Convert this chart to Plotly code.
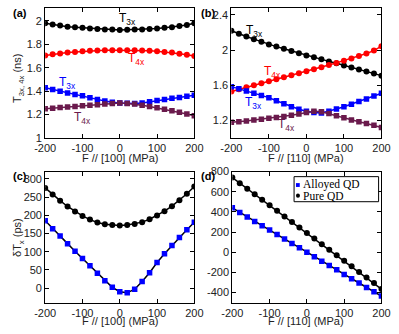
import plotly.graph_objects as go

F = [-200, -180, -160, -140, -120, -100, -80, -60, -40, -20, 0, 20, 40, 60, 80, 100, 120, 140, 160, 180, 200]

# Panel (a): F // [100]
a_pure_T3x = [1.98, 1.968, 1.96, 1.95, 1.945, 1.94, 1.935, 1.93, 1.925, 1.925, 1.922, 1.924, 1.925, 1.926, 1.93, 1.935, 1.94, 1.945, 1.955, 1.965, 1.98]
a_pure_T4x = [1.705, 1.715, 1.722, 1.73, 1.735, 1.74, 1.744, 1.746, 1.75, 1.75, 1.75, 1.75, 1.75, 1.747, 1.745, 1.74, 1.735, 1.73, 1.72, 1.71, 1.70]
a_all_T3x = [1.43, 1.415, 1.40, 1.385, 1.372, 1.36, 1.345, 1.33, 1.317, 1.305, 1.30, 1.296, 1.295, 1.30, 1.31, 1.32, 1.33, 1.34, 1.347, 1.356, 1.365]
a_all_T4x = [1.25, 1.255, 1.26, 1.265, 1.27, 1.275, 1.28, 1.285, 1.29, 1.295, 1.30, 1.295, 1.29, 1.28, 1.27, 1.258, 1.245, 1.233, 1.22, 1.205, 1.19]

# Panel (b): F // [110]
b_pure_T3x = [2.22, 2.185, 2.155, 2.125, 2.095, 2.065, 2.04, 2.015, 1.99, 1.965, 1.94, 1.918, 1.895, 1.872, 1.85, 1.826, 1.803, 1.78, 1.757, 1.735, 1.71]
b_pure_T4x = [1.53, 1.555, 1.578, 1.60, 1.623, 1.647, 1.67, 1.692, 1.715, 1.738, 1.76, 1.783, 1.806, 1.83, 1.855, 1.88, 1.906, 1.933, 1.962, 1.995, 2.045]
b_all_T3x = [1.585, 1.56, 1.535, 1.51, 1.485, 1.46, 1.425, 1.39, 1.357, 1.327, 1.305, 1.29, 1.285, 1.305, 1.33, 1.357, 1.385, 1.415, 1.445, 1.478, 1.51]
b_all_T4x = [1.18, 1.185, 1.195, 1.205, 1.215, 1.225, 1.235, 1.245, 1.26, 1.275, 1.29, 1.305, 1.30, 1.28, 1.255, 1.23, 1.205, 1.185, 1.165, 1.145, 1.12]

# Panel (c): delta T_x, F // [100]
c_alloyed = [185, 163, 143, 122, 101, 81, 61, 41, 20, 2, -10, -13, -3, 18, 42, 70, 94, 117, 139, 160, 181]
c_pure = [275, 257, 240, 224, 210, 198, 188, 180, 175, 173, 172, 173, 176, 181, 189, 199, 211, 225, 241, 259, 279]

# Panel (d): delta T_x, F // [110]
d_alloyed = [440, 395, 350, 305, 263, 220, 175, 130, 87, 45, 0, -45, -90, -132, -175, -220, -262, -305, -350, -392, -435]
d_pure = [740, 685, 630, 575, 520, 465, 410, 355, 300, 245, 190, 135, 80, 25, -30, -85, -140, -195, -250, -305, -365]

legend_names = ["Alloyed QD", "Pure QD"]

x_ticks = [-200, -100, 0, 100, 200]
x_ticktext = ["-200", "-100", "0", "100", "200"]
a_yticks = [1, 1.2, 1.4, 1.6, 1.8, 2]
a_yticktext = ["1", "1.2", "1.4", "1.6", "1.8", "2"]
b_yticks = [1.2, 1.6, 2.0, 2.4]
b_yticktext = ["1.2", "1.6", "2", "2.4"]
c_yticks = [0, 50, 100, 150, 200, 250, 300]
c_yticktext = ["0", "50", "100", "150", "200", "250", "300"]
d_yticks = [-400, -200, 0, 200, 400, 600, 800]
d_yticktext = ["-400", "-200", "0", "200", "400", "600", "800"]

BLACK = "#000000"
RED = "#ff0000"
BLUE = "#0000ff"
MAROON = "#6a1a4c"
TEXT = "#222222"

W, H = 399, 334

def px_x(p):
    return p / W

def px_y(p):
    return 1 - p / H

fig = go.Figure()

def add(xa, ya, y, color, symbol, linecolor=None, name=None, msize=6):
    fig.add_trace(go.Scatter(
        x=F, y=y, xaxis=xa, yaxis=ya, mode="lines+markers",
        line=dict(color=linecolor or color, width=1.5),
        marker=dict(color=color, symbol=symbol, size=msize),
        name=name, showlegend=False))

add("x", "y", a_pure_T3x, BLACK, "circle")
add("x", "y", a_pure_T4x, RED, "circle")
add("x", "y", a_all_T3x, BLUE, "square", msize=5.5)
add("x", "y", a_all_T4x, MAROON, "square", msize=5.5)

add("x2", "y2", b_pure_T3x, BLACK, "circle")
add("x2", "y2", b_pure_T4x, RED, "circle")
add("x2", "y2", b_all_T3x, BLUE, "square", msize=5.5)
add("x2", "y2", b_all_T4x, MAROON, "square", msize=5.5)

add("x3", "y3", c_pure, BLACK, "circle", name=legend_names[1])
add("x3", "y3", c_alloyed, BLUE, "square", linecolor=BLACK, name=legend_names[0], msize=5.5)

add("x4", "y4", d_alloyed, BLUE, "square", linecolor=BLACK, name=legend_names[0], msize=5.5)
add("x4", "y4", d_pure, BLACK, "circle", name=legend_names[1])

tickfont = dict(family="Liberation Sans, Arial, sans-serif", size=11, color=TEXT)

def xaxis(dom, anchor):
    return dict(domain=dom, anchor=anchor, range=[-200, 200], tickvals=x_ticks, ticktext=x_ticktext,
                ticks="inside", ticklen=4, tickcolor="#000", mirror="ticks", showline=True,
                linecolor="#000", linewidth=1, showgrid=False, zeroline=False, tickfont=tickfont)

def yaxis(dom, anchor, rng, tv, tt):
    return dict(domain=dom, anchor=anchor, range=rng, tickvals=tv, ticktext=tt,
                ticks="inside", ticklen=4, tickcolor="#000", mirror="ticks", showline=True,
                linecolor="#000", linewidth=1, showgrid=False, zeroline=False, tickfont=tickfont)

xa_dom = [px_x(36), px_x(193)]
xb_dom = [px_x(232), px_x(390)]
xd_dom = [px_x(233), px_x(390)]
top_dom = [px_y(137), px_y(2)]
bot_dom = [px_y(307.7), px_y(171.7)]

# hand-drawn legend box for panel (d)
lg_x0, lg_x1, lg_y0, lg_y1 = 298, 387, 177, 203
shapes = [
    dict(type="rect", xref="paper", yref="paper", x0=px_x(lg_x0), x1=px_x(lg_x1), y0=px_y(lg_y1), y1=px_y(lg_y0),
         line=dict(color="#000", width=1), fillcolor="white", layer="above"),
    dict(type="rect", xref="paper", yref="paper", x0=px_x(300), x1=px_x(304), y0=px_y(187.7), y1=px_y(183.7),
         line=dict(color=BLUE, width=0), fillcolor=BLUE, layer="above"),
    dict(type="circle", xref="paper", yref="paper", x0=px_x(300), x1=px_x(304.2), y0=px_y(198.8), y1=px_y(194.6),
         line=dict(color=BLACK, width=0), fillcolor=BLACK, layer="above"),
]

fig.update_layout(
    width=W, height=H, margin=dict(l=0, r=0, t=0, b=0),
    paper_bgcolor="white", plot_bgcolor="white", showlegend=False,
    xaxis=xaxis(xa_dom, "y"), yaxis=yaxis(top_dom, "x", [1, 2.11], a_yticks, a_yticktext),
    xaxis2=xaxis(xb_dom, "y2"), yaxis2=yaxis(top_dom, "x2", [1.0, 2.48], b_yticks, b_yticktext),
    xaxis3=xaxis(xa_dom, "y3"), yaxis3=yaxis(bot_dom, "x3", [-40, 320], c_yticks, c_yticktext),
    xaxis4=xaxis(xd_dom, "y4"), yaxis4=yaxis(bot_dom, "x4", [-500, 800], d_yticks, d_yticktext),
    shapes=shapes,
)

ann = []
def label(x, y, text, color, size=12, angle=0, family="Liberation Sans, Arial, sans-serif", xanchor="center"):
    ann.append(dict(x=px_x(x), y=px_y(y), xref="paper", yref="paper", text=text, showarrow=False,
                    textangle=angle, font=dict(color=color, size=size, family=family),
                    xanchor=xanchor, yanchor="middle"))

# panel labels
label(10, 7, "<b>(a)</b>", "#000", size=11)
label(207, 7, "<b>(b)</b>", "#000", size=11)
label(10, 176, "<b>(c)</b>", "#000", size=11)
label(207, 176, "<b>(d)</b>", "#000", size=11)

# curve labels
label(123, 14, "T<sub>3x</sub>", BLACK)
label(132, 55, "T<sub>4x</sub>", RED)
label(59, 80, "T<sub>3x</sub>", BLUE)
label(75, 116, "T<sub>4x</sub>", MAROON)
label(256, 26, "T<sub>3x</sub>", BLACK)
label(275, 68, "T<sub>4x</sub>", RED)
label(255, 101, "T<sub>3x</sub>", BLUE)
label(290, 123, "T<sub>4x</sub>", MAROON)

# axis titles
label(8, 75, "T<sub>3x, 4x</sub> (ns)", TEXT, size=11, angle=-90)
label(8, 240, "δT<sub>x</sub> (ps)", TEXT, size=11, angle=-90)
label(115, 157.5, "F // [100] (MPa)", TEXT, size=11)
label(311, 157.5, "F // [110] (MPa)", TEXT, size=11)
label(115, 327, "F // [100] (MPa)", TEXT, size=11)
label(311, 327, "F // [110] (MPa)", TEXT, size=11)

# legend texts
serif = "Liberation Serif, Times New Roman, serif"
label(305, 185.5, legend_names[0], "#000", size=11.5, family=serif, xanchor="left")
label(305, 197, legend_names[1], "#000", size=11.5, family=serif, xanchor="left")

fig.update_layout(annotations=ann)
fig.write_html("out.html", config={"displayModeBar": False},
               post_script="document.body.style.margin='0';document.body.style.overflow='hidden';")
